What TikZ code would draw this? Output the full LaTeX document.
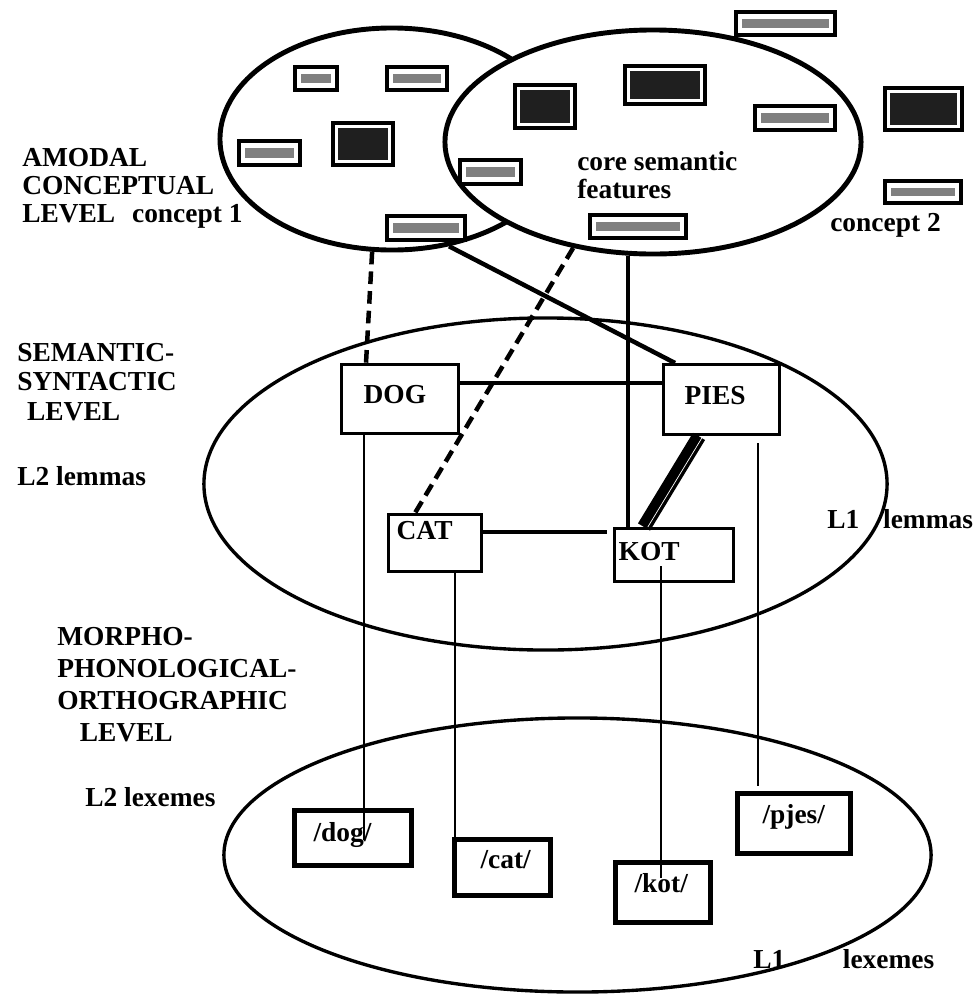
\documentclass[tikz,border=0pt]{standalone}
\usepackage{fontspec}
\setmainfont{Liberation Serif}
\usepackage{tikz}
\usetikzlibrary{shapes.geometric}
\tikzstyle{conceptellipse} = [ellipse, draw, line width=3.5pt, fill=white, inner sep=0pt]
\tikzstyle{levelellipse} = [ellipse, draw, line width=2.4pt, inner sep=0pt]
\tikzstyle{lemmabox} = [rectangle, draw, line width=2.4pt, fill=white, inner sep=0pt, align=left, anchor=north west, font=\bfseries\fontsize{19.5}{20}\selectfont]
\tikzstyle{lexbox} = [lemmabox, line width=3.6pt]
\tikzstyle{featbox} = [draw, line width=3.5pt, fill=white]
\tikzstyle{featdark} = [fill=black!88]
\tikzstyle{featgrey} = [fill=black!50]
\tikzstyle{levellabel} = [inner sep=0pt, align=left, anchor=north west, font=\bfseries\fontsize{19.5}{19.9}\selectfont]
\tikzstyle{link} = [line width=3.2pt]
\tikzstyle{dashlink} = [line width=3.2pt, dash pattern=on 9pt off 5pt]
\tikzstyle{formlink} = [line width=0.9pt]

\begin{document}
\begin{tikzpicture}[x=0.025cm, y=-0.025cm]
\useasboundingbox (0,0) rectangle (978,994);

% amodal conceptual level
\node[conceptellipse, minimum width=8.6cm, minimum height=5.55cm] (e1) at (392,139) {};
\node[conceptellipse, minimum width=10.4cm, minimum height=5.6cm] (e2) at (653,142) {};

% feature boxes
\foreach \xa/\ya/\xb/\yb in {295/67/337/90, 387/67/447/90, 239/141/300/165, 387/216/465/240, 460/160/521/184, 590/215/686/238, 755/106/835/130, 736/12/835/35, 885/181/961/203}
{
  \draw[featbox] (\xa,\ya) rectangle (\xb,\yb);
  \fill[featgrey] (\xa+6,\ya+7) rectangle (\xb-6,\yb-7);
}
\foreach \xa/\ya/\xb/\yb in {333/123/393/165, 515/85/575/128, 625/66/705/104, 885/88/962/130}
{
  \draw[featbox] (\xa,\ya) rectangle (\xb,\yb);
  \fill[featdark] (\xa+5,\ya+5) rectangle (\xb-5,\yb-5);
}

\node[levellabel] (amodal) at (22,148) {AMODAL\\CONCEPTUAL\\LEVEL\hspace{12pt}concept 1};
\node[levellabel] (core) at (577,151) {core semantic\\features};
\node[levellabel, anchor=base west] (concept2) at (830,231) {concept 2};

% semantic-syntactic level
\node[levelellipse, minimum width=17.075cm, minimum height=8.3cm] (e3) at (545.5,484) {};
\node[levellabel, font=\bfseries\fontsize{19.5}{21}\selectfont] (semsyn) at (17,343) {SEMANTIC-\\SYNTACTIC\\\hspace*{7pt}LEVEL};
\node[levellabel, anchor=base west] (lemL2) at (17,485) {L2 lemmas};
\node[levellabel, anchor=base west] (lemL1) at (827,528) {L1\hspace{17pt}lemmas};

\node[lemmabox, text width=2.925cm, text height=0.975cm, text depth=0.75cm] (DOG) at (340,363) {\hspace*{0.55cm}DOG};
\node[lemmabox, text width=2.9cm, text height=1.0cm, text depth=0.75cm] (PIES) at (662,363) {\hspace*{0.525cm}PIES};
\node[lemmabox, text width=2.325cm, text height=0.625cm, text depth=0.8cm] (CAT) at (387,513) {\hspace*{0.2cm}CAT};
\node[lemmabox, text width=2.975cm, text height=0.8cm, text depth=0.525cm] (KOT) at (613,527) {\hspace*{0.1cm}KOT};

% morpho-phonological-orthographic level
\node[levelellipse, minimum width=17.675cm, minimum height=6.85cm] (e4) at (577.5,855) {};
\node[levellabel, font=\bfseries\fontsize{19.5}{22.75}\selectfont] (morph) at (57,627) {MORPHO-\\PHONOLOGICAL-\\ORTHOGRAPHIC\\\hspace*{16pt}LEVEL};
\node[levellabel, anchor=base west] (lexL2) at (85,806) {L2 lexemes};
\node[levellabel, anchor=base west] (lexL1) at (753,968) {L1\hspace{41pt}lexemes};

\node[lexbox, text width=2.925cm, text height=0.775cm, text depth=0.6cm] (dogL) at (292,808) {\hspace*{0.475cm}/dog/};
\node[lexbox, text width=2.4cm, text height=0.725cm, text depth=0.675cm] (catL) at (452,837) {\hspace*{0.65cm}/cat/};
\node[lexbox, text width=2.375cm, text height=0.75cm, text depth=0.75cm] (kotL) at (613,860) {\hspace*{0.475cm}/kot/};
\node[lexbox, text width=2.825cm, text height=0.75cm, text depth=0.75cm] (pjesL) at (735,791) {\hspace*{0.625cm}/pjes/};

% concept to lemma links
\draw[dashlink] (e1.-100) -- ([xshift=0.65cm]DOG.north west);
\draw[dashlink] (e2.-127) -- ([xshift=0.7cm]CAT.north west);
\draw[link] (e1.-62) -- ([xshift=0.325cm]PIES.north west);
\coordinate (kottop) at ([xshift=0.375cm]KOT.north west);
\draw[link] (e2.south -| kottop) -- (kottop);

% lemma to lemma links
\coordinate (dogr) at ([yshift=-0.5cm]DOG.north east);
\draw[link] (dogr) -- (dogr -| PIES.west);
\coordinate (catr) at ([yshift=-0.475cm]CAT.north east);
\draw[link, shorten >=0.15cm] (catr) -- (catr -| KOT.west);
\draw[line width=10pt] ([xshift=0.925cm]PIES.south west) -- ([xshift=0.775cm]KOT.north west);
\draw[white, line width=0.5pt] ([xshift=1.02cm]PIES.south west) -- ([xshift=0.87cm]KOT.north west);

% lemma to lexeme links
\coordinate (dogb) at ([xshift=0.6cm]DOG.south west);
\coordinate (dogend) at ([yshift=-0.8cm]dogL.north);
\draw[formlink] (dogb) -- (dogb |- dogend);
\coordinate (catb) at ([xshift=1.7cm]CAT.south west);
\draw[formlink] (catb) -- (catb |- catL.north);
\coordinate (kotb) at ([xshift=1.2cm, yshift=0.425cm]KOT.south west);
\coordinate (kotend) at ([yshift=-0.45cm]kotL.north);
\draw[formlink] (kotb) -- (kotb |- kotend);
\coordinate (piesb) at ([xshift=2.4cm, yshift=-0.175cm]PIES.south west);
\coordinate (pjesend) at ([yshift=0.125cm]pjesL.north);
\draw[formlink] (piesb) -- (piesb |- pjesend);
\end{tikzpicture}
\end{document}
